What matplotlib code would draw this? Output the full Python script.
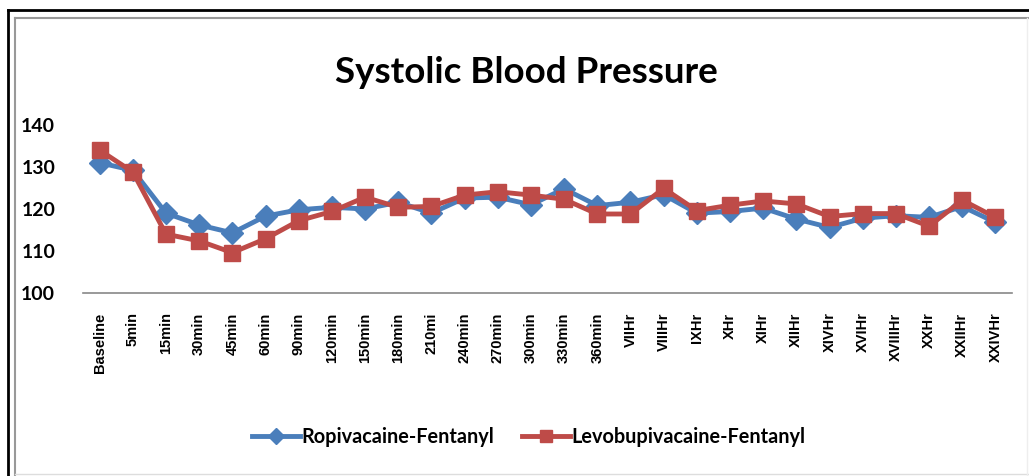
import matplotlib
matplotlib.use("Agg")
import matplotlib.pyplot as plt
from matplotlib.lines import Line2D
import numpy as np

# time points
timepoints = ['Baseline', '5min', '15min', '30min', '45min', '60min', '90min',
              '120min', '150min', '180min', '210mi', '240min', '270min', '300min',
              '330min', '360min', 'VIIHr', 'VIIIHr', 'IXHr', 'XHr', 'XIHr', 'XIIHr',
              'XIVHr', 'XVIHr', 'XVIIIHr', 'XXHr', 'XXIIHr', 'XXIVHr']

# mean systolic BP (mmHg)
ropi_fent = [131, 129.2, 119, 116.2, 114.3, 118.3, 119.8, 120.4, 120, 121.6, 119,
             122.6, 122.8, 121, 124.8, 120.8, 121.6, 123.4, 119, 119.4, 120.2,
             117.6, 115.6, 117.8, 118.4, 118, 120.6, 116.8]
levo_fent = [134, 128.8, 114, 112.4, 109.6, 112.9, 117.2, 119.4, 122.8, 120.4, 120.6,
             123.3, 124.1, 123.3, 122.3, 118.8, 118.8, 124.9, 119.6, 120.9, 121.9,
             121.2, 118.2, 118.9, 118.9, 115.9, 122.1, 118]

blue = '#4A7EBB'
red = '#BE4B48'

fig = plt.figure(figsize=(10.29, 4.76), dpi=100)
ax = fig.add_axes([0.0807, 0.3845, 0.9028, 0.3530])

x = np.arange(len(timepoints))
ax.plot(x, ropi_fent, color=blue, lw=3.5, marker='D', ms=11,
        label='Ropivacaine-Fentanyl', zorder=3)
ax.plot(x, levo_fent, color=red, lw=3.5, marker='s', ms=12,
        label='Levobupivacaine-Fentanyl', zorder=4)

ax.set_xlim(-0.5, len(timepoints) - 0.5)
ax.set_ylim(100, 140)
ax.set_yticks([100, 110, 120, 130, 140])
ax.set_xticks(x)
ax.set_xticklabels(timepoints, rotation=90, fontsize=10.5, fontweight='bold',
                   family='Liberation Sans')
for lbl in ax.get_yticklabels():
    lbl.set_fontsize(14)
    lbl.set_fontweight('bold')
    lbl.set_family('Lato')
ax.tick_params(axis='x', length=0, pad=14)
ax.tick_params(axis='y', length=0, pad=20)

for s in ['top', 'right', 'left']:
    ax.spines[s].set_visible(False)
ax.spines['bottom'].set_color('#888888')
ax.spines['bottom'].set_linewidth(1.2)

fig.text(0.512, 0.848, 'Systolic Blood Pressure', ha='center', va='center',
         fontsize=26.5, fontweight='bold', family='Lato')

leg = fig.legend(loc='center', bbox_to_anchor=(0.514, 0.082), ncol=2, frameon=False,
                 prop={'family': 'Lato', 'weight': 'bold', 'size': 14.3},
                 handlelength=2.4, handletextpad=0.1, columnspacing=1.4,
                 markerscale=0.75)

# double frame around the chart
w, h = 1029, 476
fig.add_artist(Line2D([8 / w, 8 / w], [0, 1 - 10 / h], color='black', lw=2))
fig.add_artist(Line2D([8 / w, 1], [1 - 10 / h, 1 - 10 / h], color='black', lw=2))
fig.add_artist(Line2D([15 / w, 15 / w], [0, 1 - 18 / h], color='#999999', lw=1.5))
fig.add_artist(Line2D([15 / w, 1], [1 - 18 / h, 1 - 18 / h], color='#999999', lw=1.5))
fig.add_artist(Line2D([15 / w, 1], [2 / h, 2 / h], color='#dddddd', lw=1))
fig.add_artist(Line2D([1027 / w, 1027 / w], [0, 1 - 18 / h], color='#eeeeee', lw=1))

fig.savefig('out.png', dpi=100, facecolor='white')
